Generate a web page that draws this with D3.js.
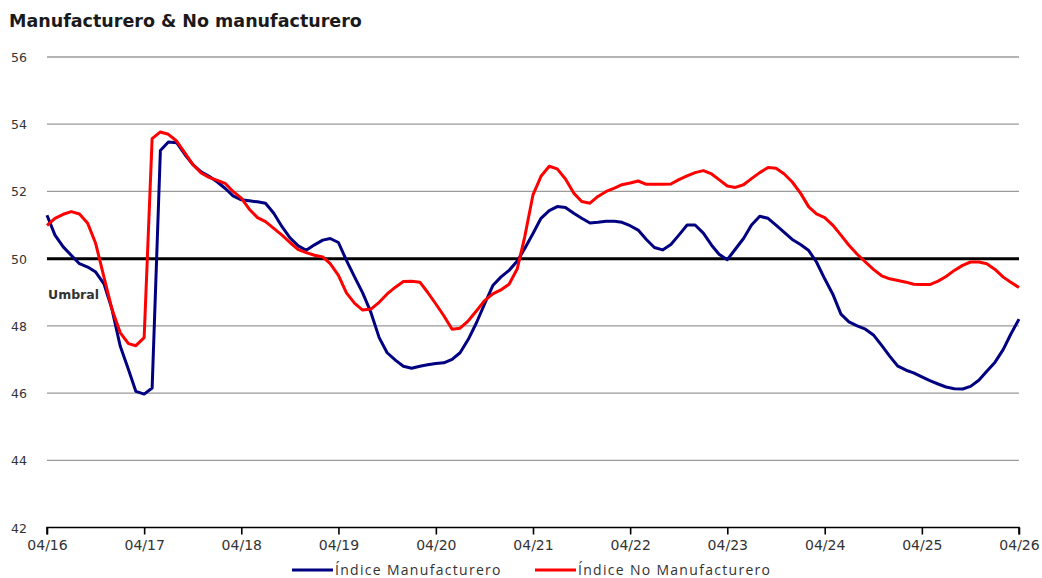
<!DOCTYPE html>
<html>
<head>
<meta charset="utf-8">
<script src="https://cdn.jsdelivr.net/npm/d3@7"></script>
<style>
  html, body { margin: 0; padding: 0; background: #fff; }
  svg { display: block; }
</style>
</head>
<body>
<svg id="chart" width="1042" height="578"></svg>
<script>
// ---- data (monthly, first point = April 2016) ----
const startMonth = "2016-04";
const manufacturero = [
  51.29, 50.7, 50.35, 50.1, 49.85, 49.75, 49.6, 49.25, 48.5, 47.4,
  46.7, 46.05, 45.97, 46.15, 53.22, 53.47, 53.45, 53.1, 52.8, 52.58,
  52.45, 52.28, 52.08, 51.87, 51.75, 51.72, 51.69, 51.65, 51.35, 50.95,
  50.62, 50.38, 50.25, 50.41, 50.55, 50.6, 50.48, 49.95, 49.45, 48.98,
  48.4, 47.65, 47.2, 46.98, 46.8, 46.74, 46.8, 46.84, 46.88, 46.9,
  47.0, 47.2, 47.6, 48.1, 48.65, 49.2, 49.45, 49.65, 49.93, 50.3,
  50.75, 51.2, 51.43, 51.55, 51.52, 51.35, 51.2, 51.06, 51.08, 51.11,
  51.11, 51.08, 50.98, 50.85, 50.57, 50.33, 50.26, 50.42, 50.7, 51.0,
  51.0, 50.76, 50.4, 50.13, 49.97, 50.28, 50.6, 51.0, 51.26, 51.2,
  51.0, 50.78, 50.57, 50.42, 50.24, 49.9, 49.4, 48.95, 48.35, 48.12,
  48.0, 47.9, 47.73, 47.42, 47.1, 46.8, 46.68, 46.6, 46.48, 46.37,
  46.27, 46.18, 46.13, 46.12, 46.2, 46.38, 46.65, 46.92, 47.3, 47.75,
  48.2
];
const noManufacturero = [
  50.99, 51.2, 51.32, 51.4, 51.33, 51.05, 50.45, 49.45, 48.5, 47.8,
  47.47, 47.41, 47.65, 53.57, 53.77, 53.7, 53.5, 53.15, 52.8, 52.55,
  52.42, 52.33, 52.23, 52.0, 51.8, 51.47, 51.22, 51.1, 50.9, 50.7,
  50.48, 50.27, 50.18, 50.1, 50.05, 49.85, 49.5, 48.98, 48.67, 48.47,
  48.5, 48.7, 48.95, 49.15, 49.32, 49.33, 49.3, 49.0, 48.65, 48.3,
  47.9, 47.93, 48.15, 48.45, 48.75, 48.95, 49.07, 49.24, 49.7, 50.65,
  51.9, 52.45, 52.75, 52.67, 52.37, 51.95, 51.7, 51.65, 51.85, 52.0,
  52.1, 52.2, 52.25, 52.31, 52.21, 52.21, 52.21, 52.22, 52.35, 52.46,
  52.56, 52.62, 52.52, 52.35, 52.16, 52.12, 52.2, 52.38, 52.56, 52.71,
  52.69, 52.52, 52.28, 51.95, 51.54, 51.33, 51.22, 51.0, 50.7, 50.4,
  50.13, 49.9, 49.68, 49.49, 49.4, 49.35, 49.3, 49.24, 49.23, 49.23,
  49.33, 49.47, 49.65, 49.8, 49.9, 49.9, 49.85, 49.68, 49.45, 49.3,
  49.14
];
const yTicks = [42, 44, 46, 48, 50, 52, 54, 56];
const xTickLabels = ["04/16", "04/17", "04/18", "04/19", "04/20", "04/21", "04/22", "04/23", "04/24", "04/25", "04/26"];
const threshold = 50;
const seriesNames = ["Índice Manufacturero", "Índice No Manufacturero"];
const seriesColors = ["#000080", "#ff0000"];
const title = "Manufacturero & No manufacturero";
const thresholdLabel = "Umbral";

// ---- layout ----
const svg = d3.select("#chart");
const parse = d3.timeParse("%Y-%m");
const t0 = parse(startMonth);
const dates = manufacturero.map((_, i) => d3.timeMonth.offset(t0, i));
const tickDates = xTickLabels.map(s => parse("20" + s.slice(3) + "-" + s.slice(0, 2)));

const plot = { left: 47, right: 1019, top: 57, bottom: 527.5 };
const x = d3.scaleTime().domain([dates[0], dates[dates.length - 1]]).range([plot.left, plot.right]);
const y = d3.scaleLinear().domain([42, 56]).range([plot.bottom, plot.top]);

// title
svg.append("text")
  .attr("x", 9).attr("y", 27)
  .attr("font-family", "DejaVu Sans, Verdana, sans-serif")
  .attr("font-weight", "bold")
  .attr("font-size", 17.5)
  .attr("fill", "#1a1a1a")
  .text(title);

// gridlines
svg.append("g").selectAll("line")
  .data(yTicks.filter(v => v !== 42 && v !== threshold))
  .join("line")
  .attr("x1", plot.left).attr("x2", plot.right)
  .attr("y1", d => y(d)).attr("y2", d => y(d))
  .attr("stroke", "#9a9a9a").attr("stroke-width", 1.3);

// y labels
svg.append("g").selectAll("text")
  .data(yTicks)
  .join("text")
  .attr("x", 11).attr("y", d => y(d) + 5)
  .attr("font-family", "DejaVu Sans, Verdana, sans-serif")
  .attr("font-size", 12.5)
  .attr("fill", "#333")
  .text(d => d);

// threshold line
svg.append("line")
  .attr("x1", plot.left).attr("x2", plot.right)
  .attr("y1", y(threshold)).attr("y2", y(threshold))
  .attr("stroke", "#000").attr("stroke-width", 3);

svg.append("text")
  .attr("x", 48).attr("y", y(threshold) + 40)
  .attr("font-family", "DejaVu Sans, Verdana, sans-serif")
  .attr("font-weight", "bold")
  .attr("font-size", 12.5)
  .attr("fill", "#333")
  .text(thresholdLabel);

// x axis
const xAxis = d3.axisBottom(x)
  .tickValues(tickDates)
  .tickSize(7)
  .tickFormat((d, i) => xTickLabels[i]);
const gx = svg.append("g")
  .attr("transform", `translate(0,${plot.bottom})`)
  .call(xAxis);
gx.select(".domain").attr("stroke", "#000").attr("stroke-width", 1.6)
  .attr("d", `M${plot.left},7V0H${plot.right}V7`);
gx.selectAll(".tick line").attr("stroke", "#000").attr("stroke-width", 1.6);
gx.selectAll(".tick text")
  .attr("font-family", "DejaVu Sans, Verdana, sans-serif")
  .attr("font-size", 14)
  .attr("fill", "#333")
  .attr("dy", "0.9em");

// lines
const line = d3.line()
  .x((d, i) => x(dates[i]))
  .y(d => y(d));
[manufacturero, noManufacturero].forEach((s, k) => {
  svg.append("path")
    .datum(s)
    .attr("fill", "none")
    .attr("stroke", seriesColors[k])
    .attr("stroke-width", 3)
    .attr("stroke-linejoin", "round")
    .attr("d", line);
});

// legend
const legendX = [292, 535];
seriesNames.forEach((name, k) => {
  const g = svg.append("g").attr("transform", `translate(${legendX[k]},570)`);
  g.append("line").attr("x1", 0).attr("x2", 41).attr("y1", 0).attr("y2", 0)
    .attr("stroke", seriesColors[k]).attr("stroke-width", 3);
  g.append("text").attr("x", 43).attr("y", 4.5)
    .attr("font-family", "Open Sans, Noto Sans, sans-serif")
    .attr("font-size", 14)
    .attr("letter-spacing", 1.3)
    .attr("fill", "#333")
    .text(name);
});
</script>
</body>
</html>
